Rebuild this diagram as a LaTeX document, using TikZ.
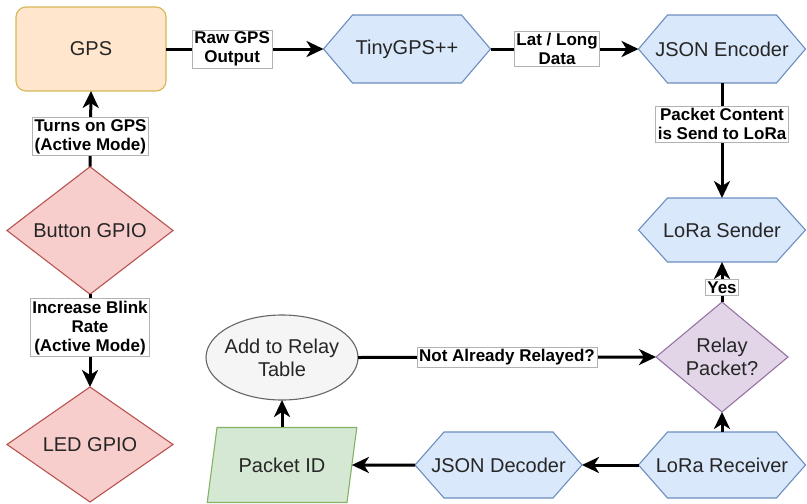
\documentclass[tikz,border=0pt]{standalone}
\usepackage{fontspec}
\setmainfont{Liberation Sans}
\usetikzlibrary{shapes.geometric,arrows.meta,backgrounds}
\definecolor{orfill}{HTML}{FFE6CC}
\definecolor{ordraw}{HTML}{D6B656}
\definecolor{blfill}{HTML}{DAE8FC}
\definecolor{bldraw}{HTML}{6C8EBF}
\definecolor{rdfill}{HTML}{F8CECC}
\definecolor{rddraw}{HTML}{B85450}
\definecolor{pufill}{HTML}{E1D5E7}
\definecolor{pudraw}{HTML}{9673A6}
\definecolor{gyfill}{HTML}{F5F5F5}
\definecolor{gydraw}{HTML}{666666}
\definecolor{gnfill}{HTML}{D5E8D4}
\definecolor{gndraw}{HTML}{82B366}
\definecolor{txt}{HTML}{262626}
\begin{document}
\begin{tikzpicture}[x=1pt,y=-1pt,
  base/.style={inner sep=0pt, outer sep=0pt, align=center, text=txt,
    font=\fontsize{20}{23}\selectfont, line width=1.1pt},
  gpsbox/.style={base, rectangle, rounded corners=10pt, fill=orfill, draw=ordraw,
    minimum width=150pt, minimum height=84pt},
  hexbox/.style={base, rectangle, minimum width=167pt, minimum height=68pt},
  hexline/.style={fill=blfill, draw=bldraw, line width=1.1pt, line join=miter},
  reddia/.style={base, diamond, fill=rdfill, draw=rddraw,
    minimum width=166pt, minimum height=115pt},
  purdia/.style={base, diamond, fill=pufill, draw=pudraw,
    minimum width=132pt, minimum height=100pt},
  ellbox/.style={base, rectangle, minimum width=152pt, minimum height=85pt},
  ellline/.style={fill=gyfill, draw=gydraw, line width=1.1pt},
  para/.style={base, trapezium, trapezium left angle=66, trapezium right angle=114,
    trapezium stretches=true, fill=gnfill, draw=gndraw,
    minimum width=150pt, minimum height=75pt},
  conn/.style={line width=3pt, -{Stealth[length=17pt, width=16pt, inset=5pt]}},
  lbl/.style={fill=white, draw=gray!60, line width=0.6pt, inner sep=2pt,
    align=center, text=black, font=\fontsize{17}{19}\selectfont\bfseries}
]
\useasboundingbox (0,0) rectangle (807,504);

% nodes
\node[gpsbox] (gps) at (91,49) {GPS};
\node[hexbox] (tiny) at (407,49) {TinyGPS++};
\node[hexbox] (enc) at (722,49) {JSON Encoder};
\node[hexbox, minimum height=64pt] (send) at (722,230) {LoRa Sender};
\node[purdia] (relay) at (722,357) {Relay\\Packet?};
\node[hexbox, minimum height=66pt] (recv) at (722,465) {LoRa Receiver};
\node[hexbox, minimum height=66pt] (dec) at (498.5,465) {JSON Decoder};
\node[para] (pid) at (282,465) {Packet ID};
\node[ellbox] (tbl) at (282,357.5) {Add to Relay\\Table};
\node[reddia] (btn) at (90,230.5) {Button GPIO};
\node[reddia] (led) at (90,444.5) {LED GPIO};

% hexagon and ellipse outlines
\begin{scope}[on background layer]
\foreach \n in {tiny,enc,send,recv,dec}
  \draw[hexline] (\n.west) -- ([xshift=29pt]\n.north west) -- ([xshift=-29pt]\n.north east)
    -- (\n.east) -- ([xshift=-29pt]\n.south east) -- ([xshift=29pt]\n.south west) -- cycle;
\draw[ellline] (tbl.center) ellipse [x radius=76pt, y radius=42.5pt];
\end{scope}

% connectors
\draw[conn] (gps.east) -- node[lbl, pos=0.42] {Raw GPS\\Output} (tiny.west);
\draw[conn] (tiny.east) -- node[lbl, pos=0.45] {Lat / Long\\Data} (enc.west);
\draw[conn] (enc.south) -- node[lbl, pos=0.36] {Packet Content\\is Send to LoRa} (send.north);
\draw[conn] (relay.north) -- node[lbl, pos=0.36] {Yes} (send.south);
\draw[conn] (recv.north) -- (relay.south);
\draw[conn] (recv.west) -- (dec.east);
\draw[conn] (dec.west) -- (pid);
\draw[conn] (pid) -- (tbl.south);
\draw[conn] (tbl.east) -- node[lbl, pos=0.5] {Not Already Relayed?} (relay.west);
\draw[conn] (btn.north) -- node[lbl, pos=0.4] {Turns on GPS\\(Active Mode)} (gps.south);
\draw[conn] (btn.south) -- node[lbl, pos=0.36] {Increase Blink\\Rate\\(Active Mode)} (led.north);
\end{tikzpicture}
\end{document}
